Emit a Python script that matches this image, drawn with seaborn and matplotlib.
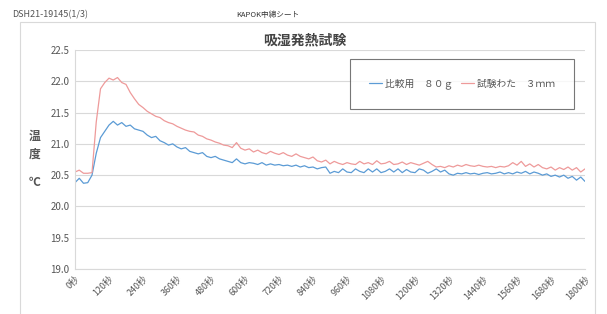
import numpy as np
import pandas as pd
import matplotlib
matplotlib.use("Agg")
import matplotlib.pyplot as plt
import seaborn as sns
from matplotlib.patches import Rectangle

# time axis (seconds), one reading every 15 s
seconds = list(range(0, 1801, 15))

# 比較用 80g (blue)
temp_ref = [
    20.38, 20.45, 20.37, 20.38, 20.50, 20.85, 21.10, 21.20, 21.30, 21.36,
    21.30, 21.34, 21.28, 21.30, 21.24, 21.22, 21.20, 21.14, 21.10, 21.12,
    21.05, 21.02, 20.98, 21.00, 20.95, 20.92, 20.94, 20.88, 20.86, 20.84,
    20.86, 20.80, 20.78, 20.80, 20.76, 20.74, 20.72, 20.70, 20.76, 20.70,
    20.68, 20.70, 20.69, 20.67, 20.70, 20.66, 20.68, 20.66, 20.67, 20.65,
    20.66, 20.64, 20.66, 20.63, 20.65, 20.62, 20.63, 20.60, 20.62, 20.63,
    20.53, 20.56, 20.54, 20.60, 20.55, 20.54, 20.60, 20.56, 20.54, 20.60,
    20.55, 20.60, 20.54, 20.56, 20.60, 20.55, 20.60, 20.54, 20.59, 20.55,
    20.54, 20.60, 20.58, 20.53, 20.56, 20.60, 20.55, 20.58, 20.52, 20.50,
    20.53, 20.52, 20.54, 20.52, 20.53, 20.51, 20.53, 20.54, 20.52, 20.53,
    20.55, 20.52, 20.54, 20.52, 20.55, 20.53, 20.56, 20.52, 20.55, 20.53,
    20.50, 20.52, 20.48, 20.50, 20.47, 20.50, 20.45, 20.48, 20.42, 20.47,
    20.40,
]

# 試験わた 3mm (red)
temp_test = [
    20.55, 20.58, 20.53, 20.53, 20.54, 21.35, 21.88, 21.98, 22.05, 22.02,
    22.06, 21.98, 21.95, 21.82, 21.72, 21.63, 21.58, 21.52, 21.48, 21.44,
    21.42, 21.37, 21.34, 21.32, 21.28, 21.25, 21.22, 21.20, 21.19, 21.14,
    21.12, 21.08, 21.06, 21.03, 21.01, 20.98, 20.97, 20.94, 21.02, 20.93,
    20.90, 20.92, 20.87, 20.90, 20.86, 20.84, 20.88, 20.85, 20.83, 20.86,
    20.82, 20.80, 20.84, 20.80, 20.78, 20.76, 20.79, 20.73, 20.71, 20.74,
    20.68, 20.72, 20.69, 20.67, 20.70, 20.68, 20.67, 20.72, 20.68, 20.70,
    20.67, 20.73, 20.68, 20.69, 20.72, 20.67, 20.68, 20.71, 20.67, 20.70,
    20.68, 20.66, 20.69, 20.72, 20.67, 20.63, 20.64, 20.62, 20.65, 20.63,
    20.66, 20.64, 20.67, 20.65, 20.64, 20.66, 20.64, 20.63, 20.64, 20.62,
    20.64, 20.63, 20.65, 20.70, 20.66, 20.72, 20.64, 20.68, 20.63, 20.67,
    20.62, 20.60, 20.63, 20.58, 20.62, 20.59, 20.63, 20.58, 20.62, 20.55,
    20.60,
]

series_names = ["比較用　８０ｇ", "試験わた　３ｍｍ"]
x_ticks = list(range(0, 1801, 120))
x_labels = [f"{t}秒" for t in x_ticks]
y_ticks = [19.0, 19.5, 20.0, 20.5, 21.0, 21.5, 22.0, 22.5]

df = pd.DataFrame({
    "秒": seconds * 2,
    "温度": temp_ref + temp_test,
    "系列": [series_names[0]] * len(seconds) + [series_names[1]] * len(seconds),
})

sns.set_style("white")
plt.rcParams["font.family"] = ["Noto Sans CJK JP", "DejaVu Sans"]

W, H = 607, 314
fig = plt.figure(figsize=(W / 100, H / 100), dpi=100)
ax = fig.add_axes([75 / W, 1 - 269 / H, 510 / W, 219 / H])

sns.lineplot(data=df, x="秒", y="温度", hue="系列",
             palette=["#5b9bd5", "#ee9a9a"], linewidth=0.9, ax=ax)

ax.set_xlim(0, 1800)
ax.set_ylim(19.0, 22.5)
ax.set_xticks(x_ticks)
ax.set_xticklabels(x_labels, rotation=45, ha="right", rotation_mode="anchor",
                   fontsize=6.5, color="#555555")
ax.set_yticks(y_ticks)
ax.set_yticklabels([f"{v:.1f}" for v in y_ticks], fontsize=7, color="#555555")
ax.tick_params(length=0, pad=4)
ax.yaxis.grid(True, color="#d9d9d9", linewidth=0.8)
ax.set_xlabel("")
ax.set_ylabel("")
for side in ["top", "right"]:
    ax.spines[side].set_visible(False)
for side in ["left", "bottom"]:
    ax.spines[side].set_color("#d9d9d9")
    ax.spines[side].set_linewidth(0.8)

leg = ax.legend(loc="center", bbox_to_anchor=(462 / W, 1 - 84 / H),
                bbox_transform=fig.transFigure, ncol=2, fontsize=7,
                handlelength=1.3, handletextpad=0.3, columnspacing=0.8,
                borderpad=2.0, frameon=True, fancybox=False)
leg.get_frame().set_edgecolor("#555555")
leg.get_frame().set_linewidth(0.8)
for t in leg.get_texts():
    t.set_color("#555555")

# chart frame, header and labels
fig.patches.append(Rectangle((20 / W, -0.05), 575 / W, 1 - 22 / H + 0.05,
                             transform=fig.transFigure, fill=False,
                             edgecolor="#d9d9d9", linewidth=0.8))
fig.text(305 / W, 1 - 40 / H, "吸湿発熱試験", ha="center", va="center",
         fontsize=10, fontweight="bold", color="#444444")
fig.text(12 / W, 1 - 15 / H, "DSH21-19145(1/3)", ha="left", va="center",
         fontsize=6.5, color="#555555")
fig.text(236 / W, 1 - 15 / H, "KAPOK中綿シート", ha="left", va="center",
         fontsize=5.5, color="#333333")
fig.text(35 / W, 1 - 136 / H, "温", ha="center", va="center",
         fontsize=8.5, fontweight="bold", color="#555555")
fig.text(35 / W, 1 - 154 / H, "度", ha="center", va="center",
         fontsize=8.5, fontweight="bold", color="#555555")
fig.text(35 / W, 1 - 183 / H, "℃", ha="center", va="center",
         fontsize=8.5, fontweight="bold", color="#555555")

fig.savefig("out.png", dpi=100)
